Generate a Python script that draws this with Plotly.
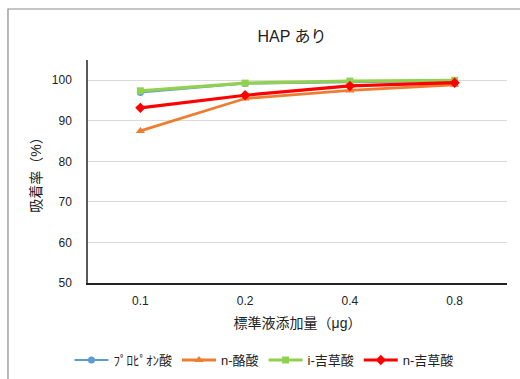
import plotly.graph_objects as go

# Adsorption rate (%) by amount of standard solution added, with HAP
amounts = ["0.1", "0.2", "0.4", "0.8"]
propionic = [97.0, 99.2, 99.5, 99.8]
n_butyric = [87.5, 95.5, 97.5, 98.9]
i_valeric = [97.4, 99.3, 99.8, 100.0]
n_valeric = [93.2, 96.3, 98.6, 99.4]

series = [
    ("ﾌﾟﾛﾋﾟｵﾝ酸", propionic, "#5B9BD5", "circle", 2, 7),
    ("n-酪酸", n_butyric, "#ED7D31", "triangle-up", 2.8, 8),
    ("i-吉草酸", i_valeric, "#92D050", "square", 3.2, 7),
    ("n-吉草酸", n_valeric, "#FF0000", "diamond", 3.2, 8),
]

FONT = "Liberation Sans, Noto Sans CJK JP, sans-serif"

fig = go.Figure()
for name, vals, color, symbol, lw, ms in series:
    fig.add_trace(go.Scatter(
        x=amounts, y=vals, name=name, mode="lines+markers",
        line=dict(color=color, width=lw),
        marker=dict(color=color, symbol=symbol, size=ms),
    ))

fig.update_layout(
    width=520, height=379,
    margin=dict(l=88, r=13, t=60, b=96, autoexpand=False),
    paper_bgcolor="white", plot_bgcolor="white",
    font=dict(family=FONT, size=11, color="#222222"),
    title=dict(text="HAP あり", x=0.487, xref="paper", xanchor="center",
               y=0.905, yref="container", yanchor="middle",
               font=dict(size=16, color="#222222")),
    xaxis=dict(type="category", range=[-0.5, 3.5], showgrid=False,
               showline=True, linecolor="#222222", linewidth=1.5,
               ticks="", tickfont=dict(size=12), ticklabelstandoff=6,
               automargin=False,
               title=dict(text="標準液添加量（μg）", font=dict(size=14), standoff=11)),
    yaxis=dict(range=[50, 105], tick0=50, dtick=10, showgrid=True,
               gridcolor="#DADADA", gridwidth=1,
               showline=True, linecolor="#595959", linewidth=1.5,
               ticks="", tickfont=dict(size=12), zeroline=False,
               ticklabelstandoff=12, automargin=False,
               title=dict(text="吸着率（%）", font=dict(size=14), standoff=7)),
    legend=dict(orientation="h", x=0.42, xanchor="center", xref="paper",
                y=0.05, yref="container", yanchor="middle",
                font=dict(size=13), itemwidth=34, entrywidth=0,
                bgcolor="rgba(0,0,0,0)"),
    showlegend=True,
)

# Outer chart frame (left and top edges visible)
fig.add_shape(type="rect", xref="paper", yref="paper",
              x0=-0.191, x1=1.2, y0=-0.6, y1=1.2287,
              line=dict(color="#8C8C8C", width=1.2), layer="below")

fig.write_html("out.html")
